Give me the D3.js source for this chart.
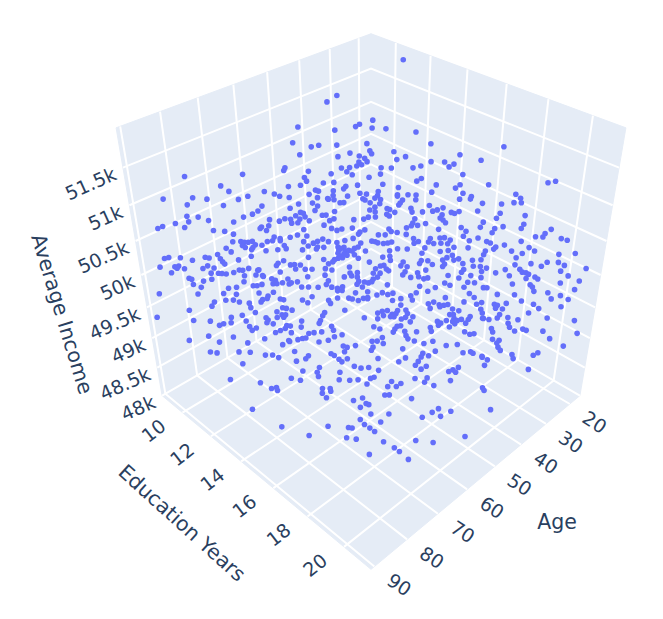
<!DOCTYPE html>
<html>
<head>
<meta charset="utf-8">
<script src="https://cdn.jsdelivr.net/npm/d3@7"></script>
<style>
  body { margin: 0; background: #fff; }
  text { font-family: "DejaVu Sans", sans-serif; fill: #2a3f5f; }
</style>
</head>
<body>
<div id="chart"></div>
<script>
var WIDTH = 663;
var HEIGHT = 619;

var AGE_TICKS = [20, 30, 40, 50, 60, 70, 80, 90];
var EDU_TICKS = [10, 12, 14, 16, 18, 20];
var INCOME_TICKS = [48000, 48500, 49000, 49500, 50000, 50500, 51000, 51500];
var INCOME_LABELS = ['48k', '48.5k', '49k', '49.5k', '50k', '50.5k', '51k', '51.5k'];

var ages = [
42.0,44.1,51.3,45.6,41.7,41.0,38.4,39.2,53.6,51.0,
49.7,46.7,41.5,53.6,45.3,41.7,41.7,47.5,44.0,43.4,
43.2,44.7,44.4,45.4,46.6,48.1,57.3,57.7,53.7,47.5,
46.9,50.3,55.0,54.9,80.8,64.8,44.3,50.6,52.3,58.5,
56.3,69.6,46.9,49.0,49.7,68.7,54.3,53.9,62.9,47.3,
55.8,61.4,66.0,60.8,52.0,46.3,49.6,44.2,59.4,54.8,
75.3,73.0,86.2,67.9,47.5,53.2,52.3,18.4,37.0,32.4,
31.0,19.3,37.9,27.3,36.4,38.1,32.7,30.6,24.5,29.3,
30.3,34.9,36.3,39.9,41.5,42.3,28.7,35.9,36.8,24.1,
25.2,30.2,25.5,42.7,33.9,40.5,31.1,35.4,30.4,21.8,
41.4,39.7,38.2,41.4,29.4,21.4,31.5,45.3,44.6,40.9,
38.9,29.7,82.9,77.5,71.5,72.7,73.8,75.4,84.1,82.4,
84.2,81.0,77.3,71.5,70.2,69.1,86.5,88.7,89.6,85.4,
72.3,73.4,73.8,73.0,81.2,79.5,78.5,72.4,71.7,71.7,
72.9,73.9,75.0,79.3,78.0,77.5,76.9,76.2,78.1,77.8,
75.9,76.6,77.0,74.9,73.0,71.6,71.6,80.8,80.4,82.8,
77.7,85.7,84.9,82.9,87.1,84.9,84.3,82.6,79.9,82.5,
82.4,85.3,74.1,74.6,73.0,87.2,84.7,84.0,84.5,83.3,
86.2,84.5,79.1,80.8,80.3,78.0,77.7,85.8,84.3,85.4,
83.8,83.1,81.9,80.4,74.6,78.6,77.7,77.5,83.5,83.2,
87.2,85.8,81.1,76.6,76.1,76.8,76.2,74.0,75.1,83.3,
82.4,84.1,82.8,80.0,79.4,78.5,74.2,43.9,45.6,36.7,
51.3,48.8,48.2,49.1,43.9,43.2,39.3,38.7,37.1,33.5,
34.0,45.8,39.4,38.2,38.7,36.3,36.0,32.1,32.3,28.6,
30.4,28.6,27.6,35.4,53.1,51.8,51.4,52.9,52.6,51.4,
51.1,48.3,47.6,46.6,47.5,43.2,41.5,40.5,39.2,37.0,
36.7,54.1,53.3,54.3,48.9,48.0,47.3,46.2,44.3,53.0,
53.1,54.6,56.0,54.2,51.7,50.5,52.6,53.8,52.3,49.7,
48.5,46.9,45.2,43.4,42.3,43.9,40.5,39.3,38.0,37.8,
36.9,34.8,33.7,32.5,33.2,32.7,31.1,35.5,34.7,34.2,
35.1,31.8,32.4,31.8,29.5,39.6,40.5,38.8,42.2,41.6,
41.3,44.3,55.2,52.7,51.3,48.7,47.8,48.4,49.0,
47.9,47.3,45.9,45.2,44.4,40.1,38.5,36.9,33.7,34.7,
40.6,41.9,49.3,49.2,48.4,47.9,46.7,46.5,46.3,48.9,
49.8,54.9,52.5,50.5,51.1,52.0,44.8,38.9,41.0,35.5,
34.4,36.1,34.0,38.7,39.7,43.3,42.7,44.4,42.4,42.2,
58.0,57.1,58.8,58.2,56.6,55.4,53.1,52.0,48.8,56.9,
53.8,49.2,47.8,45.2,44.0,44.9,45.8,39.4,39.2,40.2,
37.4,35.7,36.2,37.6,59.3,60.3,53.8,54.5,50.6,49.2,
48.4,48.5,49.1,47.7,46.9,46.3,43.8,38.4,37.0,35.9,
59.0,57.8,56.2,53.8,53.0,51.8,48.4,37.3,32.2,31.1,
34.3,43.6,38.8,41.6,42.8,42.4,35.3,36.5,31.7,44.5,
45.1,44.8,44.6,38.8,42.7,39.7,36.2,32.7,33.5,42.4,
37.6,38.4,28.9,30.2,30.9,32.0,43.2,41.0,42.5,40.1,
34.7,28.1,27.5,46.9,46.1,45.5,47.2,46.3,45.5,39.5,
37.5,39.0,39.7,43.5,46.7,41.1,34.0,33.5,37.1,35.5,
46.6,48.0,41.6,36.8,30.1,27.3,47.7,48.4,46.7,45.8,
45.7,43.9,42.4,48.4,49.0,35.2,32.5,30.8,37.8,44.2,
43.2,42.5,33.7,30.1,17.5,37.5,39.6,43.4,46.0,46.7,
31.3,37.3,36.7,36.5,41.4,49.1,45.6,44.2,39.5,21.0,
47.5,37.3,35.7,35.4,46.5,45.6,50.1,49.7,39.7,23.0,
19.7,37.2,37.1,47.7,44.6,44.1,89.8,83.5,79.2,77.3,
73.4,71.0,72.2,72.5,73.4,73.9,79.6,78.3,77.5,76.0,
76.1,81.6,82.4,70.5,70.0,70.9,70.3,86.4,75.8,72.2,
78.3,71.7,71.1,72.7,71.7,89.4,86.7,84.1,80.2,80.8,
74.6,74.5,74.9,74.0,78.2,78.2,82.9,82.1,71.9,77.2,
78.0,73.4,74.4,72.4,85.8,81.8,76.8,89.3,84.6,80.0,
73.0,74.4,87.0,86.0,82.3,80.4,78.3,77.1,76.3,82.8,
86.3,81.7,80.4,79.4,71.8,73.6,73.1,69.6,69.6,68.0,
66.3,65.8,65.1,64.1,63.4,63.4,64.8,62.8,67.4,66.6,
61.7,60.6,60.1,59.1,59.8,58.4,56.5,55.4,56.6,53.6,
59.0,54.6,53.5,53.0,54.6,68.1,76.2,71.4,72.0,72.7,
62.4,63.2,62.6,63.8,61.4,61.1,60.0,60.5,61.1,61.6,
58.6,58.7,58.2,59.3,65.6,60.0,59.0,54.7,55.0,75.6,
77.9,76.3,73.1,71.6,71.6,65.0,64.3,60.8,61.3,62.0,
62.5,60.7,56.3,56.6,58.8,78.2,75.7,74.7,73.5,70.7,
71.9,60.9,60.9,76.6,77.1,77.9,79.3,73.2,74.9,66.7,
64.7,65.7,65.0,60.1,57.3,58.9,71.5,69.5,70.9,71.7,
67.0,67.5,62.5,57.7,79.5,74.1,73.7,59.8,59.2,60.3,
77.6,78.4,67.2,62.8,73.4,73.1,72.0,80.1,64.3,61.2,
62.1,60.5,71.6,70.7,69.5,77.1,61.5,68.2,79.9,74.3,
77.8,78.0,63.4,69.6,70.1,61.4,62.2,75.1,73.6,72.2,
82.3,81.2,67.1,66.0,71.2,68.3,66.8,61.1,78.5,77.3,
38.8,38.4,40.6,38.8,37.7,34.3,31.6,28.2,25.9,26.0,
24.1,23.4,21.2,31.1,33.7,35.9,35.5,36.1,35.0,29.5,
25.1,28.9,31.1,43.2,43.6,44.3,45.0,43.2,42.3,38.6,
38.7,44.1,43.5,43.9,35.9,36.7,35.0,39.2,38.9,38.3,
45.2,40.9,41.5,42.6,43.4,44.3,42.4,44.2,46.5,45.4,
33.4,28.5,24.2,35.5,35.6,38.6,38.8,35.1,33.6,33.0,
30.5,43.3,42.8,42.0,15.8,30.0,39.4,38.4,39.2,39.4,
19.4,45.7,47.6,39.2,45.6,44.3,44.1,37.7,37.9,33.3,
34.2,42.9,42.8,42.3,43.2,47.7,48.9,49.7,48.6,36.4,
50.3,45.6,85.5,82.3,78.6,74.7,72.5,72.3,70.9,79.6,
71.5,70.9,72.7,71.3,68.1,66.3,66.3,66.0,67.6,66.5,
68.8,68.6,68.0,67.6,62.5,61.6,63.5,65.6,67.0,70.5,
65.8,65.3,64.7,58.4,58.4,56.3,54.8,55.3,53.1,61.7,
58.9,53.1,46.5,45.7
];

var educations = [
11.1,10.9,10.5,11.6,12.1,12.2,12.5,12.6,10.6,11.2,
11.4,11.9,12.7,11.0,12.4,12.9,13.0,12.1,12.7,12.9,
13.0,12.8,12.9,12.8,12.6,12.4,10.8,10.8,11.5,12.6,
12.8,12.2,11.5,11.6,9.8,9.7,13.3,12.4,12.1,11.2,
11.5,9.3,13.1,12.8,12.8,9.6,12.0,12.1,10.6,13.3,
11.9,10.9,10.2,11.1,12.6,13.5,13.0,13.8,11.4,12.2,
8.7,9.1,9.6,10.0,13.5,12.5,12.7,10.9,13.0,13.9,
14.5,16.6,13.6,15.5,14.0,13.8,14.8,15.2,16.2,15.5,
15.4,14.6,14.4,13.8,13.5,13.6,15.9,14.8,14.7,19.7,
19.5,16.0,16.8,13.8,15.3,14.3,15.9,15.3,16.2,17.7,
14.4,14.7,14.9,14.4,16.5,17.9,16.2,13.8,14.0,14.6,
15.0,16.5,10.3,11.3,12.3,12.3,12.2,12.0,10.5,10.8,
10.6,11.1,11.8,12.7,13.0,13.1,10.3,10.0,9.9,10.6,
12.8,12.6,12.6,12.8,11.4,11.7,12.0,13.1,13.3,13.3,
13.1,13.0,12.9,12.1,12.3,12.4,12.5,12.6,12.4,12.5,
12.7,12.7,12.7,13.1,13.4,13.5,13.6,12.0,12.2,11.9,
12.8,8.9,9.0,9.3,11.3,11.6,11.7,12.0,12.5,12.1,
12.2,11.8,13.6,13.6,13.7,8.9,9.3,9.4,9.4,9.6,
11.7,12.0,12.9,12.7,12.8,13.2,13.2,9.3,12.2,12.0,
12.3,12.4,12.6,12.9,13.8,13.2,13.4,13.4,9.9,10.0,
11.9,12.1,13.0,13.7,13.8,13.8,13.9,14.1,14.0,10.1,
10.4,12.7,12.9,13.3,13.4,13.5,14.2,11.1,11.1,12.5,
10.3,10.7,10.9,10.9,11.5,11.6,12.2,12.4,12.7,13.3,
13.3,11.5,12.5,12.6,12.7,13.0,13.1,13.7,13.8,14.2,
14.1,14.4,14.5,13.3,10.1,10.5,10.6,10.4,10.6,10.7,
10.9,11.2,11.3,11.6,11.5,12.2,12.5,12.6,12.8,13.1,
13.2,10.3,10.6,10.4,11.4,11.7,11.9,12.0,12.3,10.9,
11.1,10.8,10.6,11.1,11.5,11.6,11.4,11.3,11.6,11.8,
12.1,12.3,12.5,12.6,12.7,12.6,13.2,13.4,13.4,13.5,
13.7,13.9,14.0,14.0,14.0,14.2,14.4,14.0,14.3,14.5,
14.4,14.8,14.8,15.0,14.9,13.6,13.5,13.7,13.1,13.2,
13.3,12.8,11.2,11.6,11.8,12.2,12.4,12.3,12.3,
12.5,12.6,12.7,12.8,13.1,13.8,14.0,14.3,14.8,14.8,
13.9,13.7,12.3,12.4,12.5,12.6,12.7,12.8,13.0,12.5,
12.4,11.5,12.0,12.3,12.3,12.2,13.4,14.4,14.0,14.9,
15.1,14.9,15.3,14.6,14.4,13.8,13.9,13.7,14.0,14.1,
11.2,11.4,11.1,11.3,11.6,11.8,12.2,12.4,12.9,11.8,
12.3,13.0,13.2,13.7,13.9,13.9,13.8,14.6,14.9,14.6,
15.0,15.2,15.4,15.1,11.6,11.4,12.5,12.5,12.9,13.1,
13.3,13.4,13.4,13.6,13.7,13.8,14.3,15.3,15.3,15.8,
11.8,12.0,12.3,12.7,12.9,13.0,13.6,18.1,18.9,19.1,
18.6,17.1,18.1,17.6,17.4,17.5,18.7,18.7,19.4,17.2,
17.2,17.3,17.4,18.4,17.9,18.4,19.0,19.5,19.5,18.1,
18.8,18.8,20.3,20.2,20.2,20.0,18.1,18.5,18.3,18.8,
19.7,20.7,20.9,17.5,17.6,17.8,17.6,17.8,18.0,18.9,
19.3,19.1,19.1,18.4,17.9,18.9,20.0,20.2,19.6,19.9,
18.1,17.7,18.9,19.8,20.9,21.3,18.0,17.9,18.2,18.3,
18.5,18.7,18.9,18.0,18.0,20.3,20.7,21.0,19.9,18.8,
19.0,19.2,20.6,21.2,20.9,20.1,19.7,19.1,18.6,18.6,
21.2,20.2,20.3,20.4,19.5,18.3,18.9,19.2,19.9,20.5,
18.6,20.4,20.6,20.7,18.9,19.1,18.3,18.5,20.1,20.4,
20.9,20.6,20.7,18.9,19.4,19.5,9.3,10.4,11.1,11.5,
12.1,12.5,12.4,12.4,12.3,12.3,11.3,11.5,11.7,12.0,
12.1,11.0,11.0,12.8,12.9,13.0,13.1,10.4,12.3,12.9,
12.0,13.1,13.2,13.0,13.2,8.7,10.7,11.2,11.7,11.8,
12.7,12.8,12.8,13.0,12.2,12.4,11.5,11.6,13.4,12.6,
12.5,13.3,13.2,13.4,11.4,12.1,13.0,10.9,11.8,12.6,
13.7,13.6,11.7,11.9,12.5,12.8,13.3,13.5,13.7,12.8,
12.7,13.6,14.0,14.1,15.0,14.8,15.0,15.5,15.6,15.7,
16.0,16.1,16.3,16.4,16.5,16.5,16.1,16.4,15.6,15.7,
16.7,16.8,17.0,17.1,17.2,17.4,17.6,17.7,17.7,18.0,
17.5,18.2,18.3,18.5,18.3,16.1,14.7,15.6,15.6,15.6,
17.1,17.0,17.2,17.1,17.2,17.4,17.5,17.5,17.5,17.4,
17.7,17.8,18.0,17.8,16.7,17.7,18.0,18.7,18.8,15.1,
14.9,15.2,15.6,16.0,16.1,17.1,17.3,17.8,17.7,17.7,
17.7,18.0,18.6,18.7,18.3,15.0,15.5,15.6,15.8,16.4,
16.2,18.1,18.2,15.5,15.4,15.3,15.1,16.1,15.9,17.3,
17.5,17.4,17.6,18.4,18.9,18.7,16.6,16.9,16.7,16.7,
17.4,17.4,18.2,19.1,15.4,16.4,16.5,18.8,19.0,18.8,
15.8,15.8,17.7,18.4,16.7,16.8,16.9,15.6,18.3,18.8,
18.8,19.1,17.2,17.4,17.6,16.3,19.0,17.9,15.9,16.9,
16.3,16.4,19.0,17.9,17.8,19.3,19.3,17.0,17.3,17.5,
15.7,16.0,18.4,18.7,17.8,18.4,18.6,19.6,16.7,16.9,
18.0,18.2,18.0,18.4,18.5,18.8,19.3,19.8,20.2,20.4,
20.6,20.9,20.9,19.6,19.2,18.9,19.0,19.0,19.2,20.0,
20.8,20.2,20.0,17.4,17.6,17.5,17.4,17.8,18.0,18.6,
18.7,17.8,17.9,18.0,19.2,19.2,19.5,18.8,18.8,19.0,
17.8,18.4,18.4,18.2,18.1,18.0,18.4,18.1,17.7,18.0,
19.8,20.6,21.4,19.6,19.7,19.2,19.3,19.9,20.1,20.2,
20.7,18.5,18.7,18.8,20.8,21.0,19.4,19.6,19.6,19.7,
20.6,18.5,18.2,19.8,18.8,19.0,19.1,20.2,20.3,20.9,
20.8,19.4,19.4,19.6,19.6,18.9,18.8,18.7,18.9,20.9,
18.9,19.9,13.8,14.9,15.8,16.2,15.5,15.7,15.7,14.2,
16.8,16.9,16.9,17.2,16.5,16.7,16.9,17.0,16.8,17.2,
17.0,17.2,17.4,17.6,17.3,17.4,17.7,17.6,18.0,17.8,
18.4,18.6,19.0,18.1,18.7,18.9,19.0,19.2,19.4,18.9,
19.4,20.2,20.5,20.0
];

var incomes = [
51810,51740,51490,51460,51490,51520,51560,51480,51330,51290,
51310,51310,51320,51210,51230,51250,51220,51190,51200,51180,
51140,51140,51110,51100,51080,51080,51080,51050,51040,51040,
51010,51020,50980,50940,51330,51010,50980,50930,50920,50890,
50900,50900,50900,50890,50870,50840,50850,50840,50840,50820,
50810,50810,50790,50790,50800,50810,50790,50840,50780,50780,
50780,50760,51120,50760,50770,50770,50760,51890,51470,51440,
51320,51290,51240,51210,51190,51160,51140,51140,51160,51120,
51090,51100,51080,51080,51080,51020,51010,50970,50940,51290,
51270,50910,50910,50910,50900,50880,50870,50830,50820,50810,
50810,50810,50800,50790,50790,50770,50760,50770,50760,50750,
50760,50760,51060,51060,51050,51010,50980,50950,50960,50950,
50900,50910,50900,50920,50910,50930,50890,50860,50840,50850,
50870,50850,50840,50820,50820,50810,50790,50760,50750,50720,
50720,50720,50680,50720,50720,50710,50710,50720,50680,50660,
50680,50660,50640,50630,50640,50680,50650,50650,50620,50600,
50580,50170,50180,50170,50540,50570,50560,50550,50540,50520,
50500,50490,50510,50490,50530,50080,50080,50090,50070,50060,
50460,50470,50460,50450,50450,50450,50450,50020,50420,50420,
50420,50410,50430,50390,50430,50400,50400,50380,49970,49960,
50340,50360,50340,50370,50350,50320,50320,50360,50320,49900,
49880,50280,50290,50300,50300,50310,50310,50500,50410,50450,
50360,50370,50340,50290,50370,50370,50400,50370,50360,50370,
50350,50280,50290,50320,50270,50310,50300,50310,50270,50340,
50270,50280,50290,50270,50310,50270,50260,50230,50200,50220,
50180,50240,50240,50200,50180,50190,50200,50220,50220,50250,
50230,50190,50160,50150,50130,50100,50080,50090,50100,50090,
50020,50030,50000,49960,49960,49980,49940,49910,49900,49950,
49950,49970,49990,50060,50080,50040,50030,50030,50090,50060,
50050,50100,50120,50200,50150,50130,50150,50030,49990,49960,
49940,49990,49950,49940,50090,49940,49940,49950,49960,49950,
49940,49940,49870,49880,49900,49900,49900,49880,49870,
49860,49870,49880,49900,49860,49860,49880,49880,49890,49830,
49800,49790,49830,49800,49830,49810,49860,49810,49780,49780,
49780,49790,49770,49760,49740,49720,49740,49740,49760,49750,
49750,49720,49710,49690,49700,49700,49710,49670,49660,49640,
49710,49710,49710,49660,49660,49660,49670,49650,49690,49580,
49600,49620,49620,49620,49620,49580,49560,49630,49580,49600,
49620,49650,49570,49580,49530,49510,49540,49500,49580,49590,
49580,49530,49500,49530,49510,49530,49490,49480,49560,49470,
49470,49470,49470,49470,49460,49470,49470,51080,51080,51080,
51070,51030,51010,51000,50990,50980,50980,50940,50960,50970,
50940,50920,50890,50900,50850,50850,50860,50880,50840,50820,
50840,50800,50830,50790,50760,50760,50770,50750,50720,50720,
50720,50740,50730,50750,50750,50730,50700,50700,50660,50700,
50680,50660,50650,50660,50630,50630,50660,50630,50630,50600,
50590,50620,50590,50560,50600,50600,50570,50540,50540,50550,
50510,50540,50540,50500,50480,50510,50520,50520,50500,50480,
50480,50470,50480,50490,50070,50460,50450,50430,50450,50430,
50440,50430,50420,50410,50420,50400,50400,50380,50390,49990,
50370,50370,50380,50360,50330,50330,50320,50310,50310,49920,
49940,50310,50290,50290,50280,50280,49810,49810,49810,49810,
49820,49830,49790,49760,49750,49730,49750,49750,49730,49720,
49670,49730,49690,49760,49750,49670,49660,49640,49620,49630,
49600,49600,49600,49570,49580,49330,49540,49540,49570,49520,
49570,49550,49520,49510,49540,49490,49490,49510,49490,49470,
49440,49440,49420,49460,49390,49380,49360,49340,49330,49320,
49340,49300,49230,49220,49230,49220,49200,49200,49170,49110,
48950,48920,48860,48860,50190,50160,50140,50160,50130,50180,
50180,50170,50160,50180,50190,50170,50230,50240,50250,50250,
50210,50230,50220,50230,50160,50180,50200,50230,50160,50250,
50120,50130,50140,50120,50080,50070,50070,50050,50020,49970,
50060,50040,50020,49990,50060,50030,50070,50040,50010,50010,
50070,50040,50010,50000,49990,49980,49960,49960,49930,49960,
49920,49910,49940,49920,49880,49910,49890,49920,49910,49890,
49860,49870,49900,49870,49860,49850,49850,49850,49860,49840,
49810,49830,49800,49810,49800,49790,49770,49780,49770,49780,
49810,49770,49750,49780,49780,49760,49730,49730,49710,49670,
49720,49690,49700,49680,49680,49660,49640,49660,49640,49620,
49630,49610,49610,49610,49610,49580,49610,49590,49580,49580,
49550,49540,49540,49520,49530,49530,49510,49500,49490,49480,
49480,49440,49430,49440,49420,49430,49390,49410,49410,49410,
49420,49410,49390,49380,49370,49350,49340,49360,49330,49330,
49810,49770,49730,49710,49720,49800,49800,49840,49820,49760,
49790,49760,49850,49740,49710,49710,49700,49670,49660,49710,
49680,49660,49620,49770,49710,49700,49680,49660,49640,49660,
49620,49600,49600,49570,49600,49570,49580,49570,49560,49560,
49540,49580,49550,49550,49540,49530,49520,49510,49520,49480,
49550,49570,49540,49520,49480,49460,49430,49440,49460,49440,
49440,49430,49410,49410,48980,49360,49350,49340,49320,49280,
48840,49300,49290,49240,49220,49230,49220,49200,49160,49220,
49190,49190,49170,49150,49090,49070,49050,49030,49020,49050,
48940,48860,48650,48470,48380,48480,48810,48770,48830,48840,
48470,48460,48360,48350,48740,48760,48710,48700,48670,48600,
48550,48500,48460,48430,48800,48790,48600,48520,48320,48190,
48260,48220,48150,48760,48570,48620,48650,48580,48630,48340,
48310,48370,48650,48840
];

// camera of the 3d scene, fitted on the corners of the box
var CENTER_X = 371;
var CENTER_Y = 275;
var FOCAL = 945;
var DISTANCE = 5.82;

var ageScale = d3.scaleLinear().domain([15.6, 91]).range([-1, 1]);
var eduScale = d3.scaleLinear().domain([8.5, 21.4]).range([-1, 1]);
var incomeScale = d3.scaleLinear().domain([48000, 52000]).range([-1, 1]);

var AGE_RANGE = ageScale.domain();
var EDU_RANGE = eduScale.domain();
var INCOME_RANGE = incomeScale.domain();

function project(age, edu, income) {
    var x = ageScale(age);
    var y = eduScale(edu);
    var z = incomeScale(income);
    var depth = DISTANCE - (x + y + z) / Math.sqrt(3);
    return [CENTER_X + FOCAL * ((y - x) / Math.SQRT2) / depth,
            CENTER_Y - FOCAL * ((2 * z - x - y) / Math.sqrt(6)) / depth];
}

var svg = d3.select('#chart').append('svg')
            .attr('width', WIDTH)
            .attr('height', HEIGHT)
            .style('display', 'block');

var line = d3.line();

// the three back walls
var walls = [
    [[AGE_RANGE[0], EDU_RANGE[0], INCOME_RANGE[0]], [AGE_RANGE[1], EDU_RANGE[0], INCOME_RANGE[0]],
     [AGE_RANGE[1], EDU_RANGE[1], INCOME_RANGE[0]], [AGE_RANGE[0], EDU_RANGE[1], INCOME_RANGE[0]]],
    [[AGE_RANGE[0], EDU_RANGE[0], INCOME_RANGE[0]], [AGE_RANGE[1], EDU_RANGE[0], INCOME_RANGE[0]],
     [AGE_RANGE[1], EDU_RANGE[0], INCOME_RANGE[1]], [AGE_RANGE[0], EDU_RANGE[0], INCOME_RANGE[1]]],
    [[AGE_RANGE[0], EDU_RANGE[0], INCOME_RANGE[0]], [AGE_RANGE[0], EDU_RANGE[1], INCOME_RANGE[0]],
     [AGE_RANGE[0], EDU_RANGE[1], INCOME_RANGE[1]], [AGE_RANGE[0], EDU_RANGE[0], INCOME_RANGE[1]]]
];

svg.selectAll('path.wall')
    .data(walls)
    .enter().append('path')
    .attr('class', 'wall')
    .attr('fill', '#e5ecf6')
    .attr('stroke', '#e5ecf6')
    .attr('d', d => line(d.map(c => project(c[0], c[1], c[2]))) + 'Z');

// grid: each tick draws a polyline over the two walls it touches
var gridLines = [];
AGE_TICKS.forEach(t => gridLines.push([
    [t, EDU_RANGE[1], INCOME_RANGE[0]], [t, EDU_RANGE[0], INCOME_RANGE[0]], [t, EDU_RANGE[0], INCOME_RANGE[1]]]));
EDU_TICKS.forEach(t => gridLines.push([
    [AGE_RANGE[1], t, INCOME_RANGE[0]], [AGE_RANGE[0], t, INCOME_RANGE[0]], [AGE_RANGE[0], t, INCOME_RANGE[1]]]));
INCOME_TICKS.forEach(t => gridLines.push([
    [AGE_RANGE[1], EDU_RANGE[0], t], [AGE_RANGE[0], EDU_RANGE[0], t], [AGE_RANGE[0], EDU_RANGE[1], t]]));

svg.selectAll('path.grid')
    .data(gridLines)
    .enter().append('path')
    .attr('class', 'grid')
    .attr('fill', 'none')
    .attr('stroke', '#fff')
    .attr('stroke-width', 2)
    .attr('d', d => line(d.map(c => project(c[0], c[1], c[2]))));

// points
svg.selectAll('circle')
    .data(d3.range(ages.length))
    .enter().append('circle')
    .attr('cx', i => project(ages[i], educations[i], incomes[i])[0])
    .attr('cy', i => project(ages[i], educations[i], incomes[i])[1])
    .attr('r', 2.8)
    .attr('fill', '#636efa');

// tick labels
function tickLabel(text, point, dx, dy, angle, anchor) {
    svg.append('text')
        .attr('transform', `translate(${point[0] + dx},${point[1] + dy}) rotate(${angle})`)
        .attr('text-anchor', anchor)
        .attr('dominant-baseline', 'central')
        .attr('font-size', 19)
        .text(text);
}

AGE_TICKS.forEach(t => tickLabel(t, project(t, EDU_RANGE[1], INCOME_RANGE[0]), 25, 18, 33, 'middle'));
EDU_TICKS.forEach(t => tickLabel(t, project(AGE_RANGE[1], t, INCOME_RANGE[0]), -29, 18, -38, 'middle'));
INCOME_TICKS.forEach((t, i) => tickLabel(INCOME_LABELS[i], project(AGE_RANGE[1], EDU_RANGE[0], t), -8, 5, -24, 'end'));

// axis titles
function axisTitle(text, x, y, angle) {
    svg.append('text')
        .attr('transform', `translate(${x},${y}) rotate(${angle})`)
        .attr('text-anchor', 'middle')
        .attr('dominant-baseline', 'central')
        .attr('font-size', 20.5)
        .text(text);
}

axisTitle('Age', 557, 522, 0);
axisTitle('Education Years', 182, 523, 42);
axisTitle('Average Income', 62, 314, 73);
</script>
</body>
</html>
